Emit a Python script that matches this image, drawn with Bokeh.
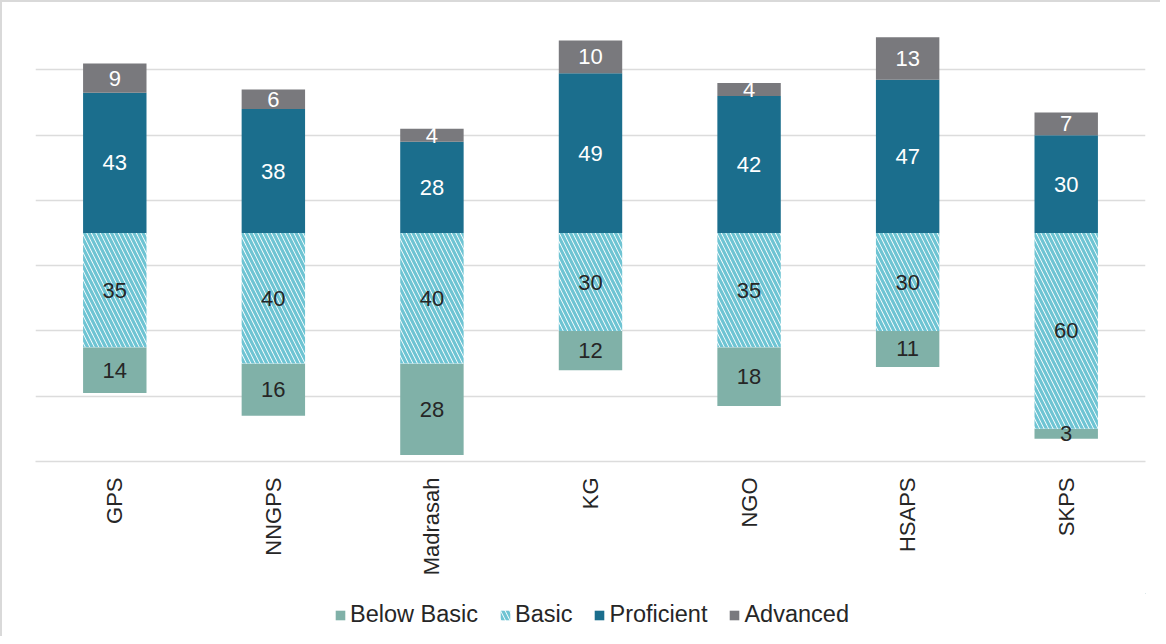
from math import pi
from bokeh.plotting import figure
from bokeh.layouts import column
from bokeh.models import ColumnDataSource, Legend, LegendItem, FixedTicker, Range1d
from bokeh.core.properties import value
from bokeh.embed import file_html
from bokeh.resources import INLINE

categories = ["GPS", "NNGPS", "Madrasah", "KG", "NGO", "HSAPS", "SKPS"]
below_basic = [14, 16, 28, 12, 18, 11, 3]
basic = [35, 40, 40, 30, 35, 30, 60]
proficient = [43, 38, 28, 49, 42, 47, 30]
advanced = [9, 6, 4, 10, 4, 13, 7]
series_names = ["Below Basic", "Basic", "Proficient", "Advanced"]

C_BELOW = "#80b1a8"
C_HATCH = "#6ec4d3"
C_PROF = "#1b6e8d"
C_ADV = "#79797d"
FONT = "Liberation Sans"
HATCH = dict(fill_color="white", hatch_pattern="\\", hatch_color=C_HATCH,
             hatch_scale=9, hatch_weight=3.2)

# segment extents (basic & below basic go downward from 0)
basic_bottom = [-b for b in basic]
below_top = basic_bottom
below_bottom = [-(b + bb) for b, bb in zip(basic, below_basic)]
prof_top = proficient
adv_top = [p_ + a for p_, a in zip(proficient, advanced)]

src = ColumnDataSource(dict(
    cat=categories,
    bb_top=below_top, bb_bot=below_bottom,
    b_top=[0] * len(categories), b_bot=basic_bottom,
    p_top=prof_top, p_bot=[0] * len(categories),
    a_top=adv_top, a_bot=prof_top,
))

p = figure(x_range=categories, y_range=Range1d(-70, 67), width=1158, height=591,
           output_backend="svg", toolbar_location=None,
           min_border_left=33, min_border_right=15, min_border_top=12, min_border_bottom=132)
p.outline_line_color = None
p.background_fill_color = "white"
p.border_fill_color = "white"

W = 0.4
p.vbar(x="cat", top="bb_top", bottom="bb_bot", width=W, source=src,
       fill_color=C_BELOW, line_color=None)
p.vbar(x="cat", top="b_top", bottom="b_bot", width=W, source=src,
       line_color=None, **HATCH)
p.vbar(x="cat", top="p_top", bottom="p_bot", width=W, source=src,
       fill_color=C_PROF, line_color=None)
p.vbar(x="cat", top="a_top", bottom="a_bot", width=W, source=src,
       fill_color=C_ADV, line_color=None)

# labels
lx, ly, lt, lc = [], [], [], []
for i, c in enumerate(categories):
    for lo, hi, v, col in [
        (below_bottom[i], below_top[i], below_basic[i], "#262626"),
        (basic_bottom[i], 0, basic[i], "#262626"),
        (0, prof_top[i], proficient[i], "white"),
        (prof_top[i], adv_top[i], advanced[i], "white"),
    ]:
        lx.append(c)
        ly.append((lo + hi) / 2)
        lt.append(str(v))
        lc.append(col)
lsrc = ColumnDataSource(dict(x=lx, y=ly, t=lt, c=lc))
p.text(x="x", y="y", text="t", text_color="c", source=lsrc, text_align="center",
       text_baseline="middle", text_font=value(FONT), text_font_size="22px")

p.xgrid.visible = False
p.ygrid.ticker = FixedTicker(ticks=[-70, -50, -30, -10, 10, 30, 50])
p.ygrid.grid_line_color = "#dcdcdc"
p.ygrid.grid_line_width = 1.5
p.yaxis.visible = False

ax = p.xaxis[0]
ax.axis_line_color = "#dcdcdc"
ax.axis_line_width = 1.5
ax.major_tick_line_color = None
ax.minor_tick_line_color = None
ax.major_label_standoff = 10
ax.major_label_orientation = pi / 2
ax.major_label_text_font = FONT
ax.major_label_text_font_size = "22px"
ax.major_label_text_color = "#262626"

# legend strip
lf = figure(width=1158, height=43, x_range=Range1d(0, 1), y_range=Range1d(0, 1),
            output_backend="svg", toolbar_location=None,
            min_border_left=0, min_border_right=0, min_border_top=0, min_border_bottom=0)
lf.axis.visible = False
lf.grid.visible = False
lf.outline_line_color = None
styles = [dict(fill_color=C_BELOW), HATCH, dict(fill_color=C_PROF), dict(fill_color=C_ADV)]
rends = []
for st in styles:
    # a single mark placed outside the visible range so only the legend swatch shows
    s = ColumnDataSource(dict(x=[5.0], top=[5.0], bottom=[4.0]))
    rends.append(lf.vbar(x="x", top="top", bottom="bottom", width=0.1, source=s,
                         line_color=None, **st))
legend = Legend(items=[LegendItem(label=n, renderers=[r]) for n, r in zip(series_names, rends)],
                orientation="horizontal", location=(299, 8),
                label_text_font=FONT, label_text_font_size="23.5px", label_text_color="#262626",
                glyph_width=12, glyph_height=12, label_standoff=4, spacing=21, label_height=24,
                border_line_color=None, background_fill_alpha=0, padding=0, margin=0)
lf.add_layout(legend, "center")

layout = column(p, lf, spacing=0)
layout.styles = {"border-left": "2px solid #d9d9d9", "border-top": "2px solid #d9d9d9"}

open("out.html", "w").write(file_html(layout, INLINE))
